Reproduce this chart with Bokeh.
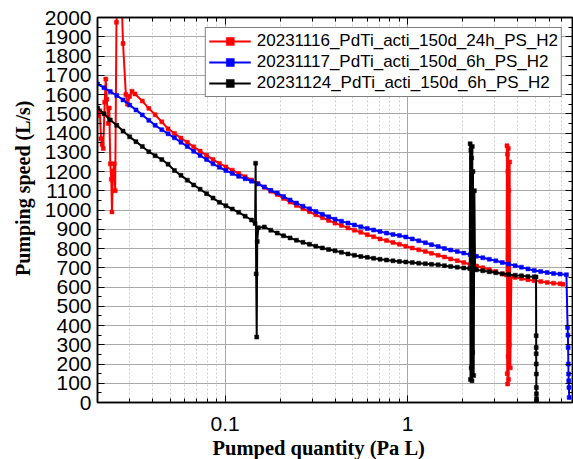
from bokeh.plotting import figure
from bokeh.models import (LinearAxis, LogAxis, FixedTicker, SingleIntervalTicker,
                          CustomJSTickFormatter, Range1d, Legend, LegendItem, Title)
from bokeh.embed import file_html
from bokeh.resources import INLINE

# ---------------- data ----------------
# common pumped-quantity grid (Pa L)
G = [0.020, 0.0217, 0.0235, 0.0255, 0.0276, 0.030, 0.0325, 0.0352, 0.0382, 0.0414,
     0.045, 0.0487, 0.0528, 0.0573, 0.0621, 0.0673, 0.073, 0.0792, 0.0859, 0.0931,
     0.101, 0.1095, 0.1187, 0.1288, 0.1396, 0.1514, 0.164, 0.178, 0.193, 0.209,
     0.227, 0.246, 0.267, 0.290, 0.314, 0.341, 0.369, 0.400, 0.434, 0.471,
     0.511, 0.554, 0.601, 0.651, 0.706, 0.766, 0.831, 0.901, 0.977, 1.06,
     1.15, 1.25, 1.35, 1.47, 1.59, 1.72, 1.87, 2.03, 2.20, 2.38,
     2.58, 2.80, 3.04, 3.30, 3.57, 3.88, 4.20, 4.56, 4.94, 5.36,
     5.81, 6.30, 6.84, 7.41]

# 20231117 (blue)
blue_main_s = [1655, 1635, 1615, 1595, 1572, 1545, 1520, 1494, 1466, 1440,
               1417, 1396, 1375, 1352, 1330, 1305, 1283, 1262, 1240, 1222,
               1205, 1190, 1175, 1162, 1150, 1135, 1120, 1102, 1088, 1070,
               1052, 1036, 1020, 1006, 992, 978, 965, 952, 942, 932,
               922, 913, 904, 896, 888, 880, 873, 867, 860, 850,
               840, 830, 820, 810, 800, 792, 784, 776, 768, 760,
               752, 744, 736, 727, 719, 711, 703, 694, 686, 680,
               675, 670, 667, 664]
blue_drop_q = [7.52, 7.55, 7.57, 7.59, 7.61, 7.63, 7.65, 7.67]
blue_drop_s = [390, 350, 286, 200, 148, 113, 78, 26]

# 20231116 (red)
red_early_q = [0.0200, 0.0203, 0.0206, 0.0209, 0.0212, 0.0215, 0.0219, 0.0222, 0.0225,
               0.0229, 0.0232, 0.0235, 0.0238, 0.0240, 0.0243, 0.0247, 0.0250, 0.0254,
               0.0262, 0.0270, 0.0276, 0.0286, 0.0292, 0.0300, 0.0309, 0.0321]
red_early_s = [1505, 1490, 1515, 1370, 1340, 1320, 1560, 1680, 1575,
               1450, 1530, 1240, 1160, 990, 1200, 1240, 1100, 1975,
               2200, 2150, 1865, 1600, 1550, 1590, 1617, 1603]
red_main_s = [1566, 1528, 1495, 1458, 1422, 1398, 1374, 1352, 1328, 1306,
              1284, 1262, 1242, 1224, 1207, 1190, 1173, 1156, 1138, 1118,
              1098, 1080, 1060, 1041, 1024, 1007, 991, 975, 960, 946,
              932, 920, 907, 895, 884, 872, 861, 850, 841, 831,
              822, 812, 802, 793, 784, 775, 765, 756, 746, 737,
              727, 717, 709, 700, 691, 680, 667]
red_spike_q = [3.48, 3.50, 3.51, 3.52, 3.53, 3.54, 3.55, 3.56, 3.57, 3.58, 3.60, 3.62, 3.65, 3.70]
red_spike_s = [662, 1334, 150, 1290, 96, 1200, 240, 1320, 120, 1100, 300, 1250, 180, 655]
red_end_q = [3.88, 4.20, 4.56, 4.94, 5.36, 5.81, 6.30, 6.84, 7.10]
red_end_s = [650, 644, 638, 633, 628, 624, 620, 617, 614]

# 20231124 (black)
black_s1 = [1530, 1500, 1468, 1440, 1410, 1380, 1355, 1330, 1303, 1282,
            1262, 1238, 1205, 1180, 1155, 1130, 1108, 1085, 1062, 1040,
            1022, 1005, 988, 968, 948]
black_spike1_q = [0.146, 0.147, 0.148, 0.149, 0.150, 0.152]
black_spike1_s = [930, 1243, 668, 340, 836, 908]
black_s2 = [912, 895, 880, 866, 855, 843, 832, 822, 812, 803,
            795, 788, 780, 772, 765, 759, 754, 749, 744, 740,
            736, 733, 730, 727, 724, 721, 718, 715, 711, 707,
            703, 699]
black_spike2_q = [2.19, 2.20, 2.21, 2.22, 2.23, 2.24, 2.25, 2.26, 2.27, 2.28, 2.30, 2.32, 2.34]
black_spike2_s = [696, 1344, 120, 1310, 180, 1270, 113, 1330, 260, 1200, 140, 1100, 692]
black_s3 = [689, 684, 679, 674, 669, 665, 661, 658, 655, 653]
black_end_q = [5.05, 5.06, 5.06, 5.06, 5.065, 5.07, 5.07, 5.075, 5.08, 5.08]
black_end_s = [652, 347, 286, 253, 200, 148, 78, 45, 20, 5]

labels = ["20231116_PdTi_acti_150d_24h_PS_H2",
          "20231117_PdTi_acti_150d_6h_PS_H2",
          "20231124_PdTi_acti_150d_6h_PS_H2"]
x_major = [0.1, 1]
x_minor = [0.03, 0.04, 0.05, 0.06, 0.07, 0.08, 0.09,
           0.2, 0.3, 0.4, 0.5, 0.6, 0.7, 0.8, 0.9,
           2, 3, 4, 5, 6, 7, 8]

red_q = red_early_q + G[7:64] + red_spike_q + red_end_q
red_s = red_early_s + red_main_s + red_spike_s + red_end_s
blue_q = G + blue_drop_q
blue_s = blue_main_s + blue_drop_s
black_q = G[0:25] + black_spike1_q + G[26:58] + black_spike2_q + G[59:69] + black_end_q
black_s = black_s1 + black_spike1_s + black_s2 + black_spike2_s + black_s3 + black_end_s

# ---------------- figure ----------------
p = figure(width=573, height=459, x_axis_type="log",
           x_range=Range1d(0.02, 8), y_range=Range1d(0, 2000),
           output_backend="svg", toolbar_location=None,
           min_border_left=97, min_border_right=1, min_border_top=17, min_border_bottom=57)
p.outline_line_color = "black"
p.outline_line_width = 1.5
p.background_fill_color = "white"

xt = FixedTicker(ticks=x_major, minor_ticks=x_minor)
yt = SingleIntervalTicker(interval=100, num_minor_ticks=2)
xfmt = CustomJSTickFormatter(code="return tick.toString();")

xa = p.xaxis[0]
xa.ticker = xt
xa.formatter = xfmt
ya = p.yaxis[0]
ya.ticker = yt

for ax in (xa, ya):
    ax.major_tick_in = 7
    ax.major_tick_out = 0
    ax.minor_tick_in = 4
    ax.minor_tick_out = 0
    ax.axis_line_color = "black"
    ax.axis_line_width = 1.5
    ax.major_tick_line_color = "black"
    ax.minor_tick_line_color = "black"
    ax.major_label_text_font = "Liberation Sans"
    ax.major_label_text_font_size = "21px"
    ax.major_label_text_color = "black"

xa.major_label_standoff = 14
ya.major_label_standoff = 6

ytitle = Title(text="Pumping speed (L/s)", align="right", offset=83,
               text_font="Liberation Serif", text_font_style="bold",
               text_font_size="20px", text_color="black", standoff=15)
p.add_layout(ytitle, "left")

xtitle = Title(text="Pumped quantity (Pa L)", align="left", offset=115,
               text_font="Liberation Serif", text_font_style="bold",
               text_font_size="20.5px", text_color="black", standoff=2)
p.add_layout(xtitle, "below")

blank = CustomJSTickFormatter(code="return '';")
top = LogAxis(ticker=FixedTicker(ticks=x_major, minor_ticks=x_minor), formatter=blank)
right = LinearAxis(ticker=SingleIntervalTicker(interval=100, num_minor_ticks=2), formatter=blank)
for ax in (top, right):
    ax.major_label_standoff = 0
    ax.major_tick_in = 7
    ax.major_tick_out = 0
    ax.minor_tick_in = 4
    ax.minor_tick_out = 0
    ax.axis_line_color = "black"
    ax.axis_line_width = 1.5
p.add_layout(top, "above")
p.add_layout(right, "right")

p.xgrid.ticker = xt
p.xgrid.grid_line_color = "#a8a8a8"
p.xgrid.grid_line_width = 1
p.xgrid.minor_grid_line_color = "#cfcfcf"
p.xgrid.minor_grid_line_dash = "2 2"
p.ygrid.ticker = yt
p.ygrid.grid_line_color = "#a8a8a8"
p.ygrid.grid_line_width = 1

series = [(red_q, red_s, "#ff0000"), (blue_q, blue_s, "#0000ff"), (black_q, black_s, "#000000")]
items = []
for (q, s, c), lab in zip(series, labels):
    ln = p.line(q, s, line_color=c, line_width=2)
    sc = p.scatter(q, s, marker="square", size=4, fill_color=c, line_color=c, line_width=0.5)
    items.append(LegendItem(label=lab, renderers=[ln, sc]))

legend = Legend(items=items, location="top_right")
legend.label_text_font = "Liberation Sans"
legend.label_text_font_size = "17px"
legend.label_text_color = "black"
legend.glyph_width = 42
legend.glyph_height = 20
legend.label_height = 20
legend.label_standoff = 6
legend.spacing = 1
legend.padding = 3
legend.margin = 10
legend.border_line_color = "black"
legend.border_line_width = 1
legend.background_fill_alpha = 1
p.add_layout(legend, "center")

open("out.html", "w").write(file_html(p, INLINE))
